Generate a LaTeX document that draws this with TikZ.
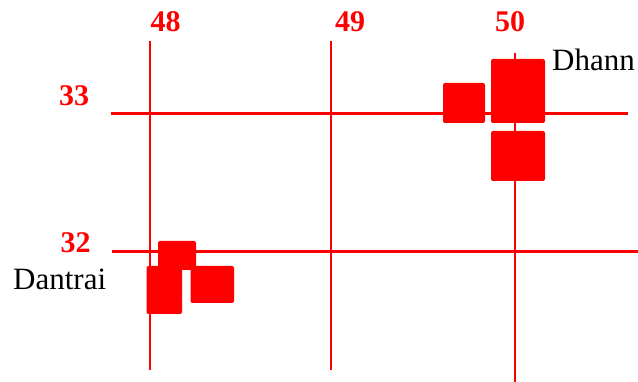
\documentclass[tikz,border=0pt]{standalone}
\usepackage{fontspec}
\setmainfont{Liberation Serif}
\begin{document}
\begin{tikzpicture}[x=1pt,y=-1pt,
  gridline/.style={draw=red,line width=1.8pt},
  hline/.style={draw=red,line width=2.2pt},
  blk/.style={fill=red,rounded corners=2pt},
  num/.style={text=red,font=\fontsize{30}{30}\selectfont\bfseries,inner sep=0pt,anchor=center},
  place/.style={font=\fontsize{31}{31}\selectfont,inner sep=0pt,anchor=west}]
\useasboundingbox (0,0) rectangle (638,382);
% grid lines
\coordinate (v48a) at (150,41); \coordinate (v48b) at (150,370);
\coordinate (v49a) at (331,41); \coordinate (v49b) at (331,370);
\coordinate (v50a) at (515,53); \coordinate (v50b) at (515,382);
\coordinate (h33a) at (111,113.5); \coordinate (h33b) at (628,113.5);
\coordinate (h32a) at (112,251.5); \coordinate (h32b) at (638,251.5);
\draw[gridline] (v48a) -- (v48b);
\draw[gridline] (v49a) -- (v49b);
\draw[gridline] (v50a) -- (v50b);
\draw[hline] (h33a) -- (h33b);
\draw[hline] (h32a) -- (h32b);
% labels
\node[num] (l48) at (165.5,21.5) {48};
\node[num] (l49) at (350,21.5) {49};
\node[num] (l50) at (510,21.5) {50};
\node[num] (l33) at (74,96) {33};
\node[num] (l32) at (75.5,243) {32};
\node[place] (dhann) at (552,60) {Dhann};
\node[place] (dantrai) at (13,279.5) {Dantrai};
% Dhann blocks
\fill[blk] (443,83) rectangle (485,123);
\fill[blk] (491,59) rectangle (545,123);
\fill[blk] (491,131) rectangle (545,181);
% Dantrai blocks
\fill[blk] (158,241) rectangle (196,270);
\fill[blk] (146.5,266) rectangle (182,314);
\fill[blk] (190.5,266) rectangle (234,303);
\end{tikzpicture}
\end{document}
